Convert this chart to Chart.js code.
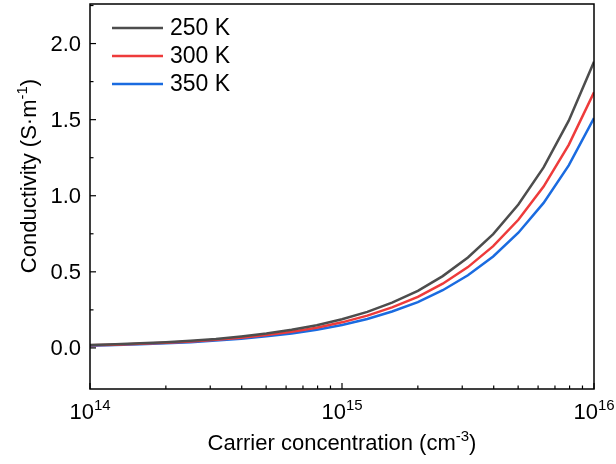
<!DOCTYPE html>
<html>
<head>
<meta charset="utf-8">
<script src="https://cdn.jsdelivr.net/npm/chart.js@4.4.1/dist/chart.umd.min.js"></script>
<style>
	html, body { margin: 0; padding: 0; background: #fff; }
	#wrap { width: 616px; height: 464px; }
</style>
</head>
<body>
<div id="wrap"><canvas id="chart"></canvas></div>
<script>
// carrier concentration (cm^-3), 10 points per decade
const carrierConc = [
	1.00e14, 1.26e14, 1.58e14, 2.00e14, 2.51e14, 3.16e14, 3.98e14, 5.01e14, 6.31e14, 7.94e14,
	1.00e15, 1.26e15, 1.58e15, 2.00e15, 2.51e15, 3.16e15, 3.98e15, 5.01e15, 6.31e15, 7.94e15,
	1.00e16,
];
const sigma250 = [
	0.019, 0.024, 0.030, 0.038, 0.047, 0.059, 0.075, 0.094, 0.119, 0.149,
	0.188, 0.237, 0.298, 0.375, 0.472, 0.594, 0.748, 0.942, 1.186, 1.493,
	1.880,
];
const sigma300 = [
	0.017, 0.021, 0.027, 0.034, 0.042, 0.053, 0.067, 0.084, 0.106, 0.133,
	0.168, 0.212, 0.266, 0.335, 0.422, 0.531, 0.669, 0.842, 1.060, 1.334,
	1.680,
];
const sigma350 = [
	0.015, 0.019, 0.024, 0.030, 0.038, 0.048, 0.060, 0.076, 0.095, 0.120,
	0.151, 0.190, 0.239, 0.301, 0.379, 0.477, 0.601, 0.757, 0.953, 1.199,
	1.510,
];
const seriesLabels = ['250 K', '300 K', '350 K'];
const xDecades = [14, 15, 16];
const yTicks = [0.0, 0.5, 1.0, 1.5, 2.0];

const FONT = '"Liberation Sans", Arial, sans-serif';
const BIG = '22px ' + FONT;
const SUP = '15px ' + FONT;
const colors = ['#4d4d4d', '#ee3b3b', '#1a6be0'];

function toPoints(ys) {
	return carrierConc.map((x, i) => ({ x, y: ys[i] }));
}

// text with a raised exponent: main + sup + tail, starting at x0
function drawSupText(ctx, main, sup, tail, x0, y, raise) {
	ctx.font = BIG;
	const w1 = ctx.measureText(main).width;
	ctx.fillText(main, x0, y);
	ctx.font = SUP;
	const w2 = ctx.measureText(sup).width;
	ctx.fillText(sup, x0 + w1, y - raise);
	if (tail) {
		ctx.font = BIG;
		ctx.fillText(tail, x0 + w1 + w2, y);
	}
}

function supTextWidth(ctx, main, sup, tail) {
	ctx.font = BIG;
	let w = ctx.measureText(main).width + (tail ? ctx.measureText(tail).width : 0);
	ctx.font = SUP;
	w += ctx.measureText(sup).width;
	return w;
}

const axesPlugin = {
	id: 'originAxes',
	afterDraw(chart) {
		const { ctx, chartArea: a, scales } = chart;
		const xs = scales.x;
		const ys = scales.y;
		ctx.save();

		// frame
		ctx.strokeStyle = '#000';
		ctx.lineWidth = 1.5;
		ctx.strokeRect(a.left, a.top, a.right - a.left, a.bottom - a.top);

		// y ticks (inward) + labels
		ctx.lineWidth = 1.2;
		ctx.fillStyle = '#000';
		ctx.font = BIG;
		ctx.textAlign = 'right';
		ctx.textBaseline = 'middle';
		yTicks.forEach((v) => {
			const py = ys.getPixelForValue(v);
			ctx.beginPath();
			ctx.moveTo(a.left, py);
			ctx.lineTo(a.left + 6, py);
			ctx.stroke();
			ctx.fillText(v.toFixed(1), a.left - 9, py + 1);
			const m = v + 0.25;
			if (m < ys.max) {
				const pm = ys.getPixelForValue(m);
				ctx.beginPath();
				ctx.moveTo(a.left, pm);
				ctx.lineTo(a.left + 3.5, pm);
				ctx.stroke();
			}
		});

		// x ticks (inward) + labels
		ctx.textAlign = 'left';
		ctx.textBaseline = 'alphabetic';
		xDecades.forEach((d, i) => {
			const base = Math.pow(10, d);
			const px = xs.getPixelForValue(base);
			ctx.beginPath();
			ctx.moveTo(px, a.bottom);
			ctx.lineTo(px, a.bottom - 6);
			ctx.stroke();
			if (i < xDecades.length - 1) {
				for (let k = 2; k <= 9; k++) {
					const pm = xs.getPixelForValue(k * base);
					ctx.beginPath();
					ctx.moveTo(pm, a.bottom);
					ctx.lineTo(pm, a.bottom - 3.5);
					ctx.stroke();
				}
			}
			const w = supTextWidth(ctx, '10', String(d), '');
			drawSupText(ctx, '10', String(d), '', px - w / 2, a.bottom + 30, 9);
		});

		// x title
		{
			const w = supTextWidth(ctx, 'Carrier concentration (cm', '-3', ')');
			const cx = (a.left + a.right) / 2;
			drawSupText(ctx, 'Carrier concentration (cm', '-3', ')', cx - w / 2, a.bottom + 61, 9);
		}

		// y title (rotated)
		{
			const w = supTextWidth(ctx, 'Conductivity (S\u00b7m', '-1', ')');
			ctx.translate(36, 176);
			ctx.rotate(-Math.PI / 2);
			drawSupText(ctx, 'Conductivity (S\u00b7m', '-1', ')', -w / 2, 0, 9);
			ctx.setTransform(1, 0, 0, 1, 0, 0);
		}

		// legend
		ctx.font = '23px ' + FONT;
		ctx.textAlign = 'left';
		ctx.textBaseline = 'middle';
		chart.data.datasets.forEach((ds, i) => {
			const ly = 28 + i * 28;
			ctx.strokeStyle = ds.borderColor;
			ctx.lineWidth = 2.5;
			ctx.beginPath();
			ctx.moveTo(112, ly);
			ctx.lineTo(163, ly);
			ctx.stroke();
			ctx.fillStyle = '#000';
			ctx.fillText(ds.label, 170, ly + 1);
		});

		ctx.restore();
	},
};

new Chart(document.getElementById('chart'), {
	type: 'line',
	data: {
		datasets: [sigma250, sigma300, sigma350].map((ys, i) => ({
			label: seriesLabels[i],
			data: toPoints(ys),
			borderColor: colors[i],
			backgroundColor: colors[i],
			borderWidth: 2.5,
			pointRadius: 0,
			tension: 0,
		})),
	},
	options: {
		responsive: true,
		maintainAspectRatio: false,
		animation: false,
		layout: { padding: { left: 90, top: 4, right: 22, bottom: 75 } },
		plugins: { legend: { display: false }, tooltip: { enabled: false } },
		scales: {
			x: { type: 'logarithmic', min: 1e14, max: 1e16, display: false },
			y: { type: 'linear', min: -0.27, max: 2.26, display: false },
		},
	},
	plugins: [axesPlugin],
});
</script>
</body>
</html>
